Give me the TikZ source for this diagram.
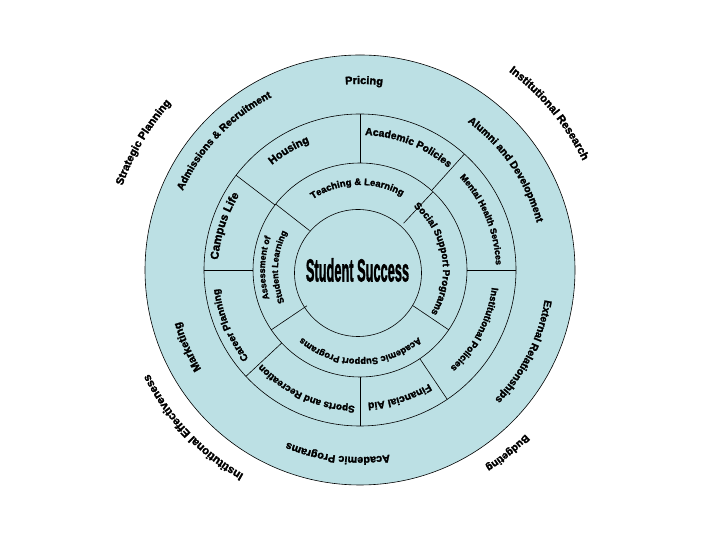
\documentclass[tikz,border=0pt]{standalone}
\usepackage{fontspec}
\usepackage{graphicx}
\newfontfamily\labfont[BoldFeatures={FakeBold=2}]{Liberation Sans}
\usetikzlibrary{decorations.text,calc}
\definecolor{ringfill}{RGB}{188,224,228}
% #1 centre angle, #2 baseline radius, #3 font size (bp), #4 text (set clockwise, tops outward)
\newcommand\ringtext[4]{%
  \path[shift={(360,270)},decorate,decoration={text along path,
    text align=center,
    text={|\labfont\bfseries\fontsize{#3bp}{#3bp}\selectfont|#4}}]
    ({#1+80}:#2) arc[start angle={#1+80}, end angle={#1-80}, radius=#2];}
\begin{document}
\begin{tikzpicture}[x=1bp,y=1bp,
  ringline/.style={draw=black,line width=0.6bp}]
\useasboundingbox (0,0) rectangle (720,540);
% rings
\coordinate (C) at (360,270);
\draw[ringline,fill=ringfill] (C) circle[radius=215];
\draw[ringline] (C) circle[radius=156];
\draw[ringline] (C) circle[radius=107];
\draw[ringline] (358,267) circle[radius=63.5];
% dividers, middle ring
\foreach \a in {90,48,0,-56,-90,-137,180,142.6}
  \draw[ringline] ($(C)+(\a:107)$) -- ($(C)+(\a:156)$);
% dividers, inner ring
\foreach \a in {142,47,-34,-146}
  \draw[ringline] ($(C)+(\a:64)$) -- ($(C)+(\a:107)$);
% centre
\node[inner sep=0pt] (title) at (357.5,270)
  {\scalebox{0.40}[1]{\labfont\bfseries\fontsize{32bp}{32bp}\selectfont Student Success}};
% outside labels
\ringtext{149.5}{252}{11}{Strategic Planning}
\ringtext{39.6}{248}{11.2}{Institutional Research}
\ringtext{223.3}{235}{11.3}{Institutional Effectiveness}
\ringtext{-51.1}{233}{10.4}{Budgeting}
% outer ring
\ringtext{88.75}{186}{11}{Pricing}
\ringtext{136.5}{194}{10.3}{Admissions {\&} Recruitment}
\ringtext{34.5}{183}{10.4}{Alumni and Development}
\ringtext{-26.5}{187}{10.5}{External Relationships}
\ringtext{-96.9}{187}{10.8}{Academic Programs}
\ringtext{204}{187}{11}{Marketing}
% middle ring
\ringtext{120.75}{137}{11}{Housing}
\ringtext{68.5}{135}{10.4}{Academic Policies}
\ringtext{22.5}{136}{8.9}{Mental Health Services}
\ringtext{-27.4}{133}{9.5}{Institutional Policies}
\ringtext{-72.7}{133}{10.4}{Financial Aid}
\ringtext{-114.2}{136}{9.8}{Sports and Recreation}
\ringtext{203}{142}{10}{Career Planning}
\ringtext{162}{142}{11.5}{Campus Life}
% inner ring
\ringtext{92}{85}{9.5}{Teaching {\&} Learning}
\ringtext{9.3}{83}{9.8}{Social Support Programs}
\ringtext{-89.8}{89}{9.2}{Academic Support Programs}
\ringtext{178.75}{95}{8.8}{Assessment of}
\ringtext{177.85}{82}{8.8}{Student Learning}
\end{tikzpicture}
\end{document}
